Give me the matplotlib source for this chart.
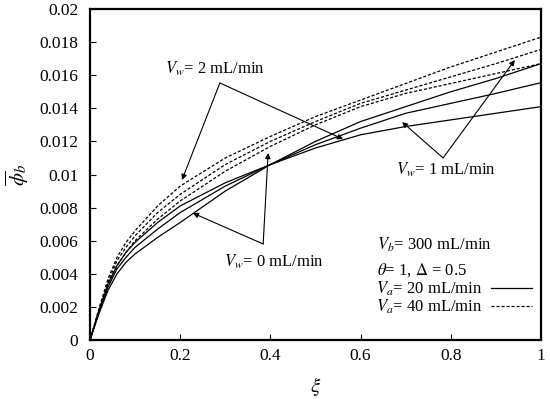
import matplotlib
matplotlib.use('Agg')
import matplotlib.pyplot as plt

# ---- data ----
xi = [0, 0.02, 0.04, 0.06, 0.08, 0.1, 0.15, 0.2, 0.3, 0.4, 0.5, 0.6, 0.7, 0.8, 0.9, 1.0]

# Va = 20 mL/min (solid)
va20_vw0 = [0, 0.0016, 0.0030, 0.0040, 0.0047, 0.0052, 0.0062, 0.0071, 0.0090, 0.0106, 0.0120, 0.0132, 0.0141, 0.0150, 0.0158, 0.0167]
va20_vw1 = [0, 0.0017, 0.0032, 0.0043, 0.0050, 0.0056, 0.0067, 0.0077, 0.0093, 0.0106, 0.0118, 0.0128, 0.0137, 0.0143, 0.0149, 0.01555]
va20_vw2 = [0, 0.0018, 0.0034, 0.0045, 0.0053, 0.0059, 0.0071, 0.0081, 0.0095, 0.0106, 0.0116, 0.0124, 0.0129, 0.0133, 0.0137, 0.0141]

# Va = 40 mL/min (dashed)
va40_vw2 = [0, 0.0019, 0.0037, 0.0050, 0.0059, 0.0066, 0.0081, 0.0093, 0.0110, 0.0123, 0.0135, 0.0145, 0.0155, 0.0165, 0.0174, 0.0183]
va40_vw1 = [0, 0.0018, 0.0035, 0.0048, 0.0056, 0.0063, 0.0077, 0.0088, 0.0106, 0.0120, 0.0132, 0.0143, 0.0151, 0.0159, 0.0167, 0.01756]
va40_vw0 = [0, 0.0017, 0.0033, 0.0045, 0.0053, 0.0060, 0.0073, 0.0084, 0.0102, 0.0117, 0.0130, 0.0141, 0.0149, 0.0155, 0.0161, 0.0167]

xticks = [0, 0.2, 0.4, 0.6, 0.8, 1]
xticklabels = ['0', '0.2', '0.4', '0.6', '0.8', '1']
yticks = [0, 0.002, 0.004, 0.006, 0.008, 0.01, 0.012, 0.014, 0.016, 0.018, 0.02]
yticklabels = ['0', '0.002', '0.004', '0.006', '0.008', '0.01', '0.012', '0.014', '0.016', '0.018', '0.02']

plt.rcParams['font.family'] = ['Liberation Serif', 'DejaVu Serif']
plt.rcParams['mathtext.fontset'] = 'stix'

fig = plt.figure(figsize=(5.5, 3.99), dpi=100)
ax = fig.add_axes([0.1636, 0.1479, 0.82, 0.8295])

solid = dict(color='k', lw=0.9, ls='-')
dash = dict(color='k', lw=0.9, ls=(0, (2.5, 1.5)))

h20, = ax.plot(xi, va20_vw0, **solid)
ax.plot(xi, va20_vw1, **solid)
ax.plot(xi, va20_vw2, **solid)
h40, = ax.plot(xi, va40_vw0, **dash)
ax.plot(xi, va40_vw1, **dash)
ax.plot(xi, va40_vw2, **dash)

ax.set_xlim(0, 1)
ax.set_ylim(0, 0.02)
ax.set_xticks(xticks)
ax.set_xticklabels(xticklabels)
ax.set_yticks(yticks)
ax.set_yticklabels(yticklabels)
ax.tick_params(direction='in', labelsize=12.5, length=4, width=0.8)
ax.tick_params(axis='x', pad=6)
ax.tick_params(axis='y', pad=8.5)
for s in ax.spines.values():
    s.set_linewidth(1.6)

ax.set_xlabel(r'$\xi$', fontsize=15, labelpad=8)
ax.set_ylabel(r'$\overline{\phi}_b$', fontsize=15, labelpad=6)

# annotations with arrows
fs = 12
arr = dict(arrowstyle='-|>', color='k', lw=0.8, mutation_scale=8, shrinkA=0, shrinkB=0)

ax.text(0.166, 0.01637, r'$V_w$= 2 mL/min', fontsize=fs, ha='left', va='center')
ax.annotate('', xy=(0.204, 0.00967), xytext=(0.288, 0.01553), arrowprops=arr)
ax.annotate('', xy=(0.561, 0.01214), xytext=(0.288, 0.01553), arrowprops=arr)

ax.text(0.679, 0.01027, r'$V_w$= 1 mL/min', fontsize=fs, ha='left', va='center')
ax.annotate('', xy=(0.692, 0.01317), xytext=(0.783, 0.0110), arrowprops=arr)
ax.annotate('', xy=(0.942, 0.01692), xytext=(0.783, 0.0110), arrowprops=arr)

ax.text(0.298, 0.00471, r'$V_w$= 0 mL/min', fontsize=fs, ha='left', va='center')
ax.annotate('', xy=(0.228, 0.00767), xytext=(0.384, 0.0058), arrowprops=arr)
ax.annotate('', xy=(0.395, 0.0113), xytext=(0.384, 0.0058), arrowprops=arr)

ax.text(0.636, 0.00574, r'$V_b$= 300 mL/min', fontsize=fs, ha='left', va='center')
ax.text(0.636, 0.00423, r'$\theta$= 1, $\Delta$ = 0.5', fontsize=fs, ha='left', va='center')

ax.legend([h20, h40], [r'$V_a$= 20 mL/min', r'$V_a$= 40 mL/min'],
          loc='upper left', bbox_to_anchor=(0.634, 0.181), frameon=False,
          markerfirst=False, fontsize=fs, handlelength=2.5, handletextpad=0.5,
          borderaxespad=0, borderpad=0, labelspacing=-0.05)

fig.savefig('out.png', dpi=100)
